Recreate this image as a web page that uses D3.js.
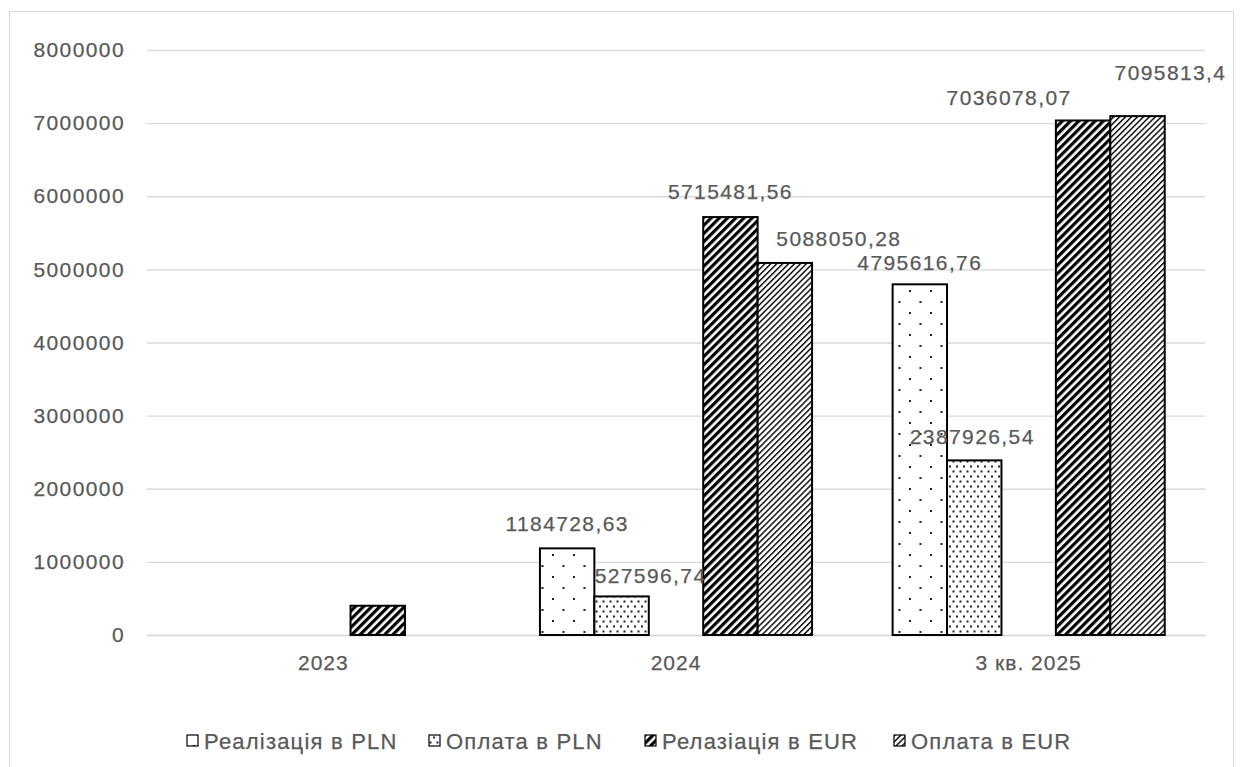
<!DOCTYPE html>
<html>
<head>
<meta charset="utf-8">
<script src="https://cdn.jsdelivr.net/npm/d3@7"></script>
<style>
  html, body { margin: 0; padding: 0; background: #fff; }
  svg { display: block; }
  text { font-family: "Liberation Sans", Arial, sans-serif; fill: #595959; }
</style>
</head>
<body>
<svg id="chart" width="1240" height="767"></svg>
<script>
// Categories along the x axis
const categories = ["2023", "2024", "3 кв. 2025"];

// Series values per category (null = nothing drawn)
const plnRealisation = [null, 1184728.63, 4795616.76];
const plnPayment     = [null, 527596.74, 2387926.54];
const eurRealisation = [400000, 5715481.56, 7036078.07];
const eurPayment     = [null, 5088050.28, 7095813.4];

// Series names as shown in the legend
const seriesNames = ["Реалізація в PLN", "Оплата в PLN", "Релазіація в EUR", "Оплата в EUR"];

// Categories whose bars carry value labels
const labelledCategories = ["2024", "3 кв. 2025"];

// Y axis tick values
const yTicks = [0, 1000000, 2000000, 3000000, 4000000, 5000000, 6000000, 7000000, 8000000];

// ---- layout ----
const plot = { left: 147, right: 1205, top: 50, bottom: 635 };

const series = [
  { key: "plnReal", name: seriesNames[0], values: plnRealisation, fill: "url(#dotsSparse)" },
  { key: "plnPay",  name: seriesNames[1], values: plnPayment,     fill: "url(#dotsDense)" },
  { key: "eurReal", name: seriesNames[2], values: eurRealisation, fill: "url(#diagDark)" },
  { key: "eurPay",  name: seriesNames[3], values: eurPayment,     fill: "url(#diagLight)" }
];
// slot order inside a category; the empty slot separates PLN and EUR bars
const slots = ["plnReal", "plnPay", "_spacer", "eurReal", "eurPay"];

// label offsets (px) where labels are pushed aside to avoid overlapping
const labelNudge = {
  "2024":       { plnReal: [0, -1], plnPay: [29, 3], eurReal: [0, -2], eurPay: [54, 0] },
  "3 кв. 2025": { plnReal: [0, 2],  plnPay: [-2, 0], eurReal: [-74, 1], eurPay: [33, -20] }
};

const svg = d3.select("#chart");

// ---- patterns ----
const defs = svg.append("defs");

const p1 = defs.append("pattern").attr("id", "dotsSparse")
  .attr("patternUnits", "userSpaceOnUse").attr("width", 21).attr("height", 22);
p1.append("rect").attr("width", 21).attr("height", 22).attr("fill", "#fff");
[[7, 5], [17.5, 16]].forEach(([cx, cy]) =>
  p1.append("rect").attr("x", cx - 1).attr("y", cy - 1).attr("width", 2).attr("height", 2).attr("fill", "#222"));

const p2 = defs.append("pattern").attr("id", "dotsDense")
  .attr("patternUnits", "userSpaceOnUse").attr("width", 7).attr("height", 10);
p2.append("rect").attr("width", 7).attr("height", 10).attr("fill", "#fff");
[[1.5, 1.5], [5, 6.5]].forEach(([cx, cy]) =>
  p2.append("rect").attr("x", cx - 1).attr("y", cy - 1).attr("width", 2).attr("height", 2).attr("fill", "#222"));

function diag(id, period, width) {
  const p = defs.append("pattern").attr("id", id)
    .attr("patternUnits", "userSpaceOnUse").attr("width", period).attr("height", period)
    .attr("patternTransform", "rotate(45)");
  p.append("rect").attr("width", period).attr("height", period).attr("fill", "#fff");
  p.append("rect").attr("x", 0).attr("y", 0).attr("width", width).attr("height", period).attr("fill", "#000");
}
diag("diagDark", 5.8, 3.2);
diag("diagLight", 4.2, 1.4);

// ---- outer frame ----
svg.append("rect").attr("x", 9.5).attr("y", 11.5).attr("width", 1224).attr("height", 770)
  .attr("fill", "none").attr("stroke", "#d9d9d9").attr("stroke-width", 1);

// ---- scales ----
const y = d3.scaleLinear().domain([0, 8000000]).range([plot.bottom, plot.top]);
const x0 = d3.scaleBand().domain(categories).range([plot.left, plot.right]).padding(0);
const x1 = d3.scaleBand().domain(slots).range([0, x0.bandwidth()]).paddingInner(0).paddingOuter(0.74);

const textStyle = sel => sel
  .attr("fill", "#595959").attr("stroke", "#595959").attr("stroke-width", 0.25)
  .style("font-family", "'Liberation Sans', Arial, sans-serif");

// ---- gridlines and y axis ----
const yAxis = d3.axisLeft(y).tickValues(yTicks).tickFormat(d3.format("d"))
  .tickSize(-(plot.right - plot.left)).tickPadding(22);
const gy = svg.append("g").attr("transform", `translate(${plot.left},0)`).call(yAxis);
gy.select(".domain").remove();
gy.selectAll(".tick line").attr("stroke", "#d9d9d9").attr("stroke-width", 1.3);
gy.selectAll(".tick text").attr("font-size", 21).attr("letter-spacing", 1.4).call(textStyle);

// ---- x axis labels ----
const xAxis = d3.axisBottom(x0).tickSize(0).tickPadding(20);
const gx = svg.append("g").attr("transform", `translate(0,${plot.bottom})`).call(xAxis);
gx.select(".domain").attr("stroke", "#d9d9d9").attr("stroke-width", 1.3);
gx.selectAll(".tick text").attr("font-size", 21).attr("letter-spacing", 1.0).call(textStyle);

// ---- bars ----
const barData = [];
categories.forEach((c, i) => {
  series.forEach(s => {
    const v = s.values[i];
    if (v == null) return;
    barData.push({ cat: c, key: s.key, value: v, fill: s.fill });
  });
});

svg.append("g").selectAll("rect").data(barData).join("rect")
  .attr("x", d => x0(d.cat) + x1(d.key))
  .attr("y", d => y(d.value))
  .attr("width", x1.bandwidth())
  .attr("height", d => y(0) - y(d.value))
  .attr("fill", d => d.fill)
  .attr("stroke", "#000").attr("stroke-width", 2);

// ---- value labels ----
const fmt = v => String(v).replace(".", ",");
svg.append("g").selectAll("text")
  .data(barData.filter(d => labelledCategories.includes(d.cat)))
  .join("text")
  .attr("x", d => x0(d.cat) + x1(d.key) + x1.bandwidth() / 2 + labelNudge[d.cat][d.key][0])
  .attr("y", d => y(d.value) - 24 + labelNudge[d.cat][d.key][1])
  .attr("text-anchor", "middle").attr("dominant-baseline", "central")
  .attr("font-size", 21).attr("letter-spacing", 1.4)
  .call(textStyle)
  .text(d => fmt(d.value));

// ---- legend ----
const legendX = [187, 429, 645, 894];
const legend = svg.append("g").selectAll("g").data(series).join("g")
  .attr("transform", (d, i) => `translate(${legendX[i]},741)`);
legend.append("rect").attr("x", 0).attr("y", -6).attr("width", 11).attr("height", 11)
  .attr("fill", d => d.fill).attr("stroke", "#000").attr("stroke-width", 1.2);
legend.append("text").attr("x", 17).attr("y", 0).attr("dominant-baseline", "central")
  .attr("font-size", 22).attr("letter-spacing", 1.2)
  .call(textStyle)
  .text(d => d.name);
</script>
</body>
</html>
